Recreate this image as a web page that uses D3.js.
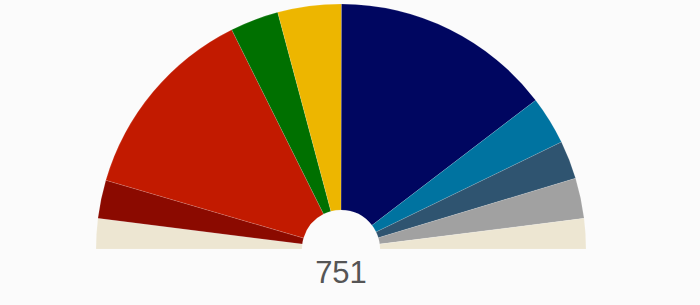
<!DOCTYPE html>
<meta charset="utf-8">
<head>
  <style>
    body {
      margin: 0;
      background: #fbfbfb;
      font-family: "Liberation Sans", Arial, sans-serif;
    }
    .total {
      fill: #555555;
      font-size: 31px;
    }
  </style>
  <script src="https://cdn.jsdelivr.net/npm/d3@7"></script>
</head>
<body>
  <div id="viz"></div>
</body>
<script>
// seats per group, left to right
var groups = ["Others", "GUE/NGL", "S&D", "Greens/EFA", "ALDE", "EPP", "ECR", "EFDD", "NI", "Others"];
var seats = [30, 38, 197, 48, 63, 219, 48, 38, 40, 30];
var colors = ["#ede6d2", "#8b0a00", "#c21a00", "#007000", "#edb600", "#000660", "#0073a0", "#2f5470", "#a1a1a1", "#ede6d2"];
var total = 751;

var width = 700, height = 305;
var cx = 341, cy = 249;
var outerR = 245, innerR = 39;

var svg = d3.select("#viz")
  .append("svg")
    .attr("width", width)
    .attr("height", height);

var pie = d3.pie()
  .sort(null)
  .startAngle(-Math.PI / 2)
  .endAngle(Math.PI / 2)
  .value(function(d) { return d; });

var arc = d3.arc()
  .innerRadius(innerR)
  .outerRadius(outerR);

var g = svg.append("g")
  .attr("transform", "translate(" + cx + "," + cy + ")");

g.selectAll("path")
  .data(pie(seats))
  .enter()
  .append("path")
    .attr("d", arc)
    .attr("fill", function(d, i) { return colors[i]; })
    .attr("stroke", "#ffffff")
    .attr("stroke-opacity", 0.25)
    .attr("stroke-width", 0.5)
  .append("title")
    .text(function(d, i) { return groups[i] + ": " + seats[i]; });

svg.append("text")
  .attr("class", "total")
  .attr("x", cx)
  .attr("y", 283)
  .attr("text-anchor", "middle")
  .text(total);
</script>
